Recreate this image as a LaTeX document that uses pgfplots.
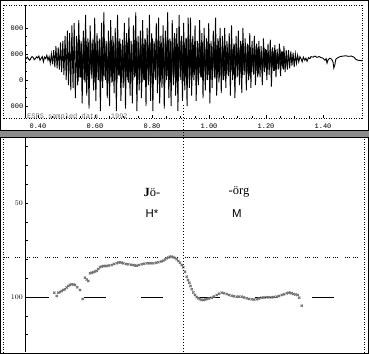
\documentclass[border=0pt]{standalone}
\usepackage{pgfplots}
\pgfplotsset{compat=1.18}
\usepackage{fontspec}
\setmainfont{Liberation Sans}
\newfontfamily\seriffont{Liberation Serif}
\newfontfamily\monofont{Liberation Mono}
\begin{document}
\begin{tikzpicture}
\useasboundingbox (0,0) rectangle (369bp,-354bp);
% ---------------- top panel: waveform ----------------
\begin{axis}[
  at={(25bp,-118bp)}, anchor=south west,
  width=337bp, height=113bp, scale only axis,
  xmin=0.3544, xmax=1.5368, ymin=-1461.5, ymax=2884.6,
  axis x line*=bottom, axis y line*=left,
  x axis line style={draw=none},
  y axis line style={-, line width=0.8bp},
  xtick={0.4,0.6,0.8,1.0,1.2,1.4},
  xticklabels={0.40,0.60,0.80,1.00,1.20,1.40},
  minor x tick num=3,
  ytick={-1000,0,1000,2000},
  yticklabels={000,0,000,000},
  minor y tick num=2,
  tick align=inside,
  major tick length=3bp, minor tick length=2bp,
  tick style={black, line width=0.5bp},
  xticklabel style={font=\monofont\fontsize{7}{7}\selectfont, inner sep=0pt, yshift=-6bp},
  yticklabel style={font=\monofont\fontsize{7}{7}\selectfont, inner sep=1.5bp},
]
\addplot[black, line width=0.9bp] coordinates {
(0.355,860)(0.359,830)(0.363,880)(0.367,800)(0.371,760)(0.375,840)(0.379,900)(0.383,870)
(0.387,780)(0.391,820)(0.395,890)(0.399,850)(0.403,920)(0.407,760)(0.411,830)(0.415,900)
(0.419,700)(0.423,880)(0.427,820)(0.431,950)(0.435,760)(0.439,900)(0.443,640)(0.447,1000)
(0.451,600)(0.455,1150)(0.459,500)(0.463,1300)(0.467,450)(0.471,1250)(0.475,400)(0.479,1450)
(0.483,300)(0.487,1500)(0.491,200)(0.495,1700)(0.499,0)(0.503,1900)(0.507,-200)(0.511,1800)
(0.515,-400)(0.519,2100)(0.523,-300)(0.527,2200)(0.531,-700)
(0.535,1700)(0.539,-200)(0.543,2300)(0.547,100)(0.551,1500)(0.555,-900)(0.559,1900)(0.563,0)
(0.567,2500)(0.571,-600)(0.575,1600)(0.579,-1100)(0.583,2100)(0.587,200)(0.591,1400)(0.595,-400)
(0.599,2400)(0.603,-800)(0.607,1800)(0.611,0)(0.615,1600)(0.619,-1200)(0.623,2200)(0.627,-300)
(0.631,2600)(0.635,100)(0.639,1500)(0.643,-700)(0.647,1900)(0.651,-1000)(0.655,2300)(0.659,-100)
(0.663,1700)(0.667,-500)(0.671,2000)(0.675,-1200)(0.679,2500)(0.683,200)(0.687,1600)(0.691,-800)
(0.695,1400)(0.699,-300)(0.703,2200)(0.707,-1100)(0.711,1800)(0.715,0)(0.719,2400)(0.723,-600)
(0.727,1500)(0.731,-900)(0.735,2100)(0.739,100)(0.743,2600)(0.747,-1200)(0.751,1700)(0.755,-400)
(0.759,1900)(0.763,-700)(0.767,2300)(0.771,0)(0.775,1600)(0.779,-1000)(0.783,2000)(0.787,-200)
(0.791,2500)(0.795,-800)(0.799,1800)(0.803,-1200)(0.807,1500)(0.811,100)(0.815,2200)(0.819,-500)
(0.823,2400)(0.827,-900)(0.831,1700)(0.835,-300)(0.839,2100)(0.843,-1100)(0.847,1900)(0.851,0)
(0.855,2600)(0.859,-700)(0.863,1600)(0.867,-1000)(0.871,2300)(0.875,-200)(0.879,1800)(0.883,-600)
(0.887,2000)(0.891,-1200)(0.895,2500)(0.899,100)(0.903,1700)(0.907,-800)(0.911,2200)(0.915,-400)
(0.919,1600)(0.923,-1000)(0.927,2400)(0.931,-300)
(0.935,2400)(0.939,-600)(0.943,1700)(0.947,0)(0.951,2100)(0.955,-800)(0.959,1500)(0.963,-200)
(0.967,2300)(0.971,100)(0.975,1800)(0.979,-700)(0.983,2000)(0.987,-400)(0.991,1600)(0.995,0)
(0.999,2200)(1.003,-900)(1.007,1500)(1.011,-300)(1.015,1900)(1.019,100)(1.023,2400)(1.027,-600)
(1.031,1600)(1.035,-100)(1.039,2000)(1.043,-500)(1.047,1700)(1.051,0)
(1.055,2000)(1.059,-300)(1.063,1500)(1.067,200)(1.071,1800)(1.075,-600)(1.079,2100)(1.083,0)
(1.087,1400)(1.091,-700)(1.095,1700)(1.099,100)(1.103,1900)(1.107,-200)(1.111,1500)(1.115,-500)
(1.119,2000)(1.123,200)(1.127,1600)(1.131,-400)(1.135,1400)(1.139,0)(1.143,1800)(1.147,-300)
(1.151,1500)(1.155,300)(1.159,1700)(1.163,-200)(1.167,1400)(1.171,100)
(1.175,1500)(1.179,100)(1.183,1300)(1.187,-200)(1.191,1600)(1.195,300)(1.199,1200)(1.203,0)
(1.207,1400)(1.211,200)(1.215,1550)(1.219,-250)(1.223,1250)(1.227,350)(1.231,1350)(1.235,100)
(1.239,1200)(1.243,400)(1.247,1400)(1.251,150)(1.255,1100)(1.259,450)(1.263,1300)(1.267,300)
(1.271,1150)(1.275,400)
(1.279,1150)(1.283,450)(1.287,1100)(1.291,550)(1.295,1050)(1.299,500)(1.303,1000)(1.307,650)
(1.311,950)(1.315,700)(1.319,900)
(1.323,820)(1.327,700)(1.331,880)(1.336,760)(1.340,840)(1.344,720)(1.349,860)(1.354,820)
(1.358,900)(1.365,880)(1.372,920)(1.379,870)(1.386,900)(1.393,860)(1.400,840)(1.407,760)
(1.411,820)(1.414,650)(1.418,780)(1.424,840)(1.430,800)(1.435,700)(1.438,460)(1.441,560)
(1.445,800)(1.452,860)(1.460,900)(1.470,920)(1.480,930)(1.490,910)(1.500,920)(1.508,880)
(1.515,800)(1.522,760)(1.530,750)(1.537,740)
};
% in-between samples of the dense core
\addplot[black, line width=0.9bp] coordinates {
(0.537,1450)(0.541,-50)(0.545,1550)(0.549,100)(0.553,1400)(0.557,0)(0.561,1600)(0.565,-100)
(0.569,1500)(0.573,150)(0.577,1450)(0.581,-50)(0.585,1550)(0.589,50)(0.593,1600)(0.597,-100)
(0.601,1400)(0.605,100)(0.609,1500)(0.613,0)(0.617,1550)(0.621,-50)(0.625,1450)(0.629,150)
(0.633,1600)(0.637,0)(0.641,1400)(0.645,-100)(0.649,1500)(0.653,100)(0.657,1550)(0.661,-50)
(0.665,1450)(0.669,50)(0.673,1600)(0.677,-100)(0.681,1500)(0.685,150)(0.689,1400)(0.693,0)
(0.697,1550)(0.701,-50)(0.705,1500)(0.709,100)(0.713,1450)(0.717,-100)(0.721,1600)(0.725,50)
(0.729,1400)(0.733,0)(0.737,1550)(0.741,150)(0.745,1500)(0.749,-50)(0.753,1450)(0.757,100)
(0.761,1600)(0.765,-100)(0.769,1400)(0.773,0)(0.777,1550)(0.781,50)(0.785,1500)(0.789,-50)
(0.793,1450)(0.797,150)(0.801,1600)(0.805,-100)(0.809,1400)(0.813,0)(0.817,1550)(0.821,100)
(0.825,1500)(0.829,-50)(0.833,1450)(0.837,50)(0.841,1600)(0.845,-100)(0.849,1400)(0.853,150)
(0.857,1550)(0.861,0)(0.865,1500)(0.869,-50)(0.873,1450)(0.877,100)(0.881,1600)(0.885,-100)
(0.889,1400)(0.893,50)(0.897,1550)(0.901,0)(0.905,1500)(0.909,-50)(0.913,1450)(0.917,150)
(0.921,1600)(0.925,-100)(0.929,1400)(0.933,0)
(0.937,1450)(0.941,100)(0.945,1350)(0.949,200)(0.953,1500)(0.957,0)(0.961,1400)(0.965,250)
(0.969,1300)(0.973,100)(0.977,1450)(0.981,150)(0.985,1350)(0.989,0)(0.993,1500)(0.997,200)
(1.001,1400)(1.005,100)(1.009,1300)(1.013,250)(1.017,1450)(1.021,50)(1.025,1350)(1.029,200)
(1.033,1500)(1.037,100)(1.041,1400)(1.045,0)(1.049,1300)(1.053,150)
(1.057,1350)(1.061,250)(1.065,1250)(1.069,150)(1.073,1400)(1.077,300)(1.081,1200)(1.085,200)
(1.089,1350)(1.093,350)(1.097,1300)(1.101,150)(1.105,1250)(1.109,300)(1.113,1400)(1.117,200)
(1.121,1200)(1.125,350)(1.129,1300)(1.133,250)(1.137,1350)(1.141,150)(1.145,1250)(1.149,300)
(1.153,1200)(1.157,200)(1.161,1300)(1.165,350)(1.169,1250)(1.173,250)
(1.177,1200)(1.181,400)(1.185,1100)(1.189,350)(1.193,1250)(1.197,500)(1.201,1150)(1.205,400)
(1.209,1050)(1.213,550)(1.217,1200)(1.221,450)(1.225,1100)(1.229,350)(1.233,1150)(1.237,500)
(1.241,1050)(1.245,450)(1.249,1200)(1.253,550)(1.257,1100)(1.261,400)(1.265,1050)(1.269,500)
(1.273,1000)
};
\end{axis}
% ---------------- bottom panel: pitch track ----------------
\begin{axis}[
  at={(25bp,-352bp)}, anchor=south west,
  width=337bp, height=214bp, scale only axis,
  xmin=0.3544, xmax=1.5368, ymin=15.43, ymax=129.26, y dir=reverse,
  axis x line=none, axis y line*=left,
  y axis line style={-, line width=0.8bp},
  xtick=\empty,
  ytick={50,100}, minor ytick={20,30,40,60,70,80,90,110,120},
  tick align=inside,
  major tick length=3bp, minor tick length=3bp,
  tick style={black, line width=0.5bp},
  yticklabel style={font=\fontsize{7}{7}\selectfont, inner sep=2bp},
]
\addplot[black, line width=0.7bp, dash pattern=on 22bp off 35bp] coordinates {(0.3614,100)(1.5368,100)};
\addplot[black, line width=0.6bp, dash pattern=on 1bp off 1bp on 1bp off 1bp on 1bp off 3bp on 1bp off 1bp on 1bp off 1bp on 1bp off 7bp] coordinates {(0.3544,79)(1.5368,79)};
\addplot[only marks, mark=x, mark size=1.6bp, mark options={draw=black!55, line width=0.9bp}] coordinates {
(0.4572,97.71)(0.4656,99.47)(0.4712,97.71)(0.4772,97.34)(0.4832,96.81)(0.4888,96.28)(0.4947,95.90)
(0.5007,94.95)(0.5063,94.15)(0.5123,93.62)(0.5182,93.24)(0.5239,93.35)(0.5298,93.62)(0.5379,94.84)
(0.5474,96.28)(0.5568,101.06)
(0.5649,89.73)(0.5709,90.69)(0.5765,91.49)(0.5825,87.39)(0.5884,87.13)(0.5940,86.86)(0.6000,86.44)
(0.6060,86.01)(0.6116,85.11)(0.6175,84.20)(0.6235,83.78)(0.6291,83.51)(0.6351,83.51)(0.6410,83.51)
(0.6491,83.24)(0.6586,82.98)(0.6667,82.44)(0.6761,82.07)(0.6825,81.65)(0.6877,81.54)(0.6937,81.75)
(0.6993,82.07)(0.7088,82.44)(0.7168,82.60)(0.7263,82.87)(0.7344,82.98)(0.7404,83.24)(0.7463,83.35)
(0.7544,82.98)(0.7639,82.60)(0.7719,82.34)(0.7814,82.07)(0.7895,82.07)(0.7965,82.07)(0.8046,82.07)
(0.8140,81.81)(0.8221,81.54)(0.8316,81.11)(0.8396,80.69)(0.8456,80.05)(0.8516,79.42)(0.8572,78.99)
(0.8632,78.56)(0.8691,78.56)(0.8747,78.88)(0.8807,79.25)(0.8867,79.95)(0.8923,80.85)(0.8982,81.75)
(0.9042,82.98)(0.9098,84.20)(0.9158,86.54)(0.9218,89.20)(0.9263,90.96)(0.9309,92.39)(0.9351,94.15)
(0.9393,95.90)(0.9449,97.61)(0.9509,98.94)(0.9569,100.00)(0.9625,100.69)(0.9684,101.22)(0.9744,101.59)
(0.9807,101.59)(0.9860,101.33)(0.9919,101.06)(1.0000,100.80)(1.0095,100.37)(1.0175,99.74)(1.0270,98.94)
(1.0351,98.30)(1.0446,97.71)(1.0526,97.98)(1.0621,98.40)(1.0702,98.94)(1.0796,99.31)(1.0877,99.63)
(1.0972,99.84)(1.1053,99.84)(1.1147,99.84)(1.1228,100.26)(1.1323,100.69)(1.1404,101.06)(1.1498,101.22)
(1.1579,101.33)(1.1674,101.22)(1.1754,100.80)(1.1849,100.37)(1.1930,100.26)(1.2025,100.15)(1.2105,100.15)
(1.2200,100.15)(1.2281,100.00)(1.2375,99.84)(1.2456,99.47)(1.2551,98.94)(1.2632,98.57)(1.2726,98.04)
(1.2790,97.77)(1.2842,97.71)(1.2902,98.04)(1.2958,98.40)(1.3035,98.67)(1.3112,98.94)(1.3168,100.37)
(1.3253,104.63)
};
\end{axis}
% ---------------- frames and annotations ----------------
\draw[line width=1bp] (0.5bp,-0.5bp) rectangle (368.5bp,-353.5bp);
\draw[line width=0.6bp, dash pattern=on 1bp off 1.5bp] (3.5bp,-5bp) -- (362bp,-5bp);
\draw[line width=0.6bp, dash pattern=on 1bp off 1.5bp] (3.5bp,-5bp) -- (3.5bp,-118bp);
\draw[line width=0.6bp, dash pattern=on 1bp off 1.5bp] (362bp,-5bp) -- (362bp,-118bp);
\draw[line width=0.6bp, dash pattern=on 1bp off 1.5bp] (3.5bp,-118.5bp) -- (362bp,-118.5bp);
\fill[black!45] (0bp,-131bp) rectangle (369bp,-137bp);
\draw[line width=0.8bp] (0bp,-130.5bp) -- (369bp,-130.5bp);
\draw[line width=0.8bp] (0bp,-137.5bp) -- (369bp,-137.5bp);
\draw[line width=0.6bp, dash pattern=on 1bp off 1.5bp] (3.5bp,-139bp) -- (3.5bp,-352bp);
\draw[line width=0.6bp, dash pattern=on 1bp off 1.5bp] (364bp,-139bp) -- (364bp,-352bp);
\draw[line width=0.6bp, dash pattern=on 1bp off 1bp on 1bp off 1bp on 1bp off 6bp] (4bp,-257bp) -- (25bp,-257bp);
\draw[line width=0.6bp, dash pattern=on 1bp off 2bp] (183bp,-105bp) -- (183bp,-352bp);
\node[font=\monofont\fontsize{7}{7}\selectfont, text=black!55, anchor=west, inner sep=0pt] at (27bp,-117bp) {ESPS sampled data \ \ 1992};
\node[font=\seriffont\fontsize{12.5}{12.5}\selectfont] at (152bp,-192bp) {\textbf{J}ö-};
\node[font=\fontsize{11.5}{11.5}\selectfont] at (152bp,-214bp) {H*};
\node[font=\seriffont\fontsize{12.5}{12.5}\selectfont] at (239bp,-192bp) {-örg};
\node[font=\fontsize{11.5}{11.5}\selectfont] at (237bp,-214bp) {M};
\end{tikzpicture}
\end{document}
